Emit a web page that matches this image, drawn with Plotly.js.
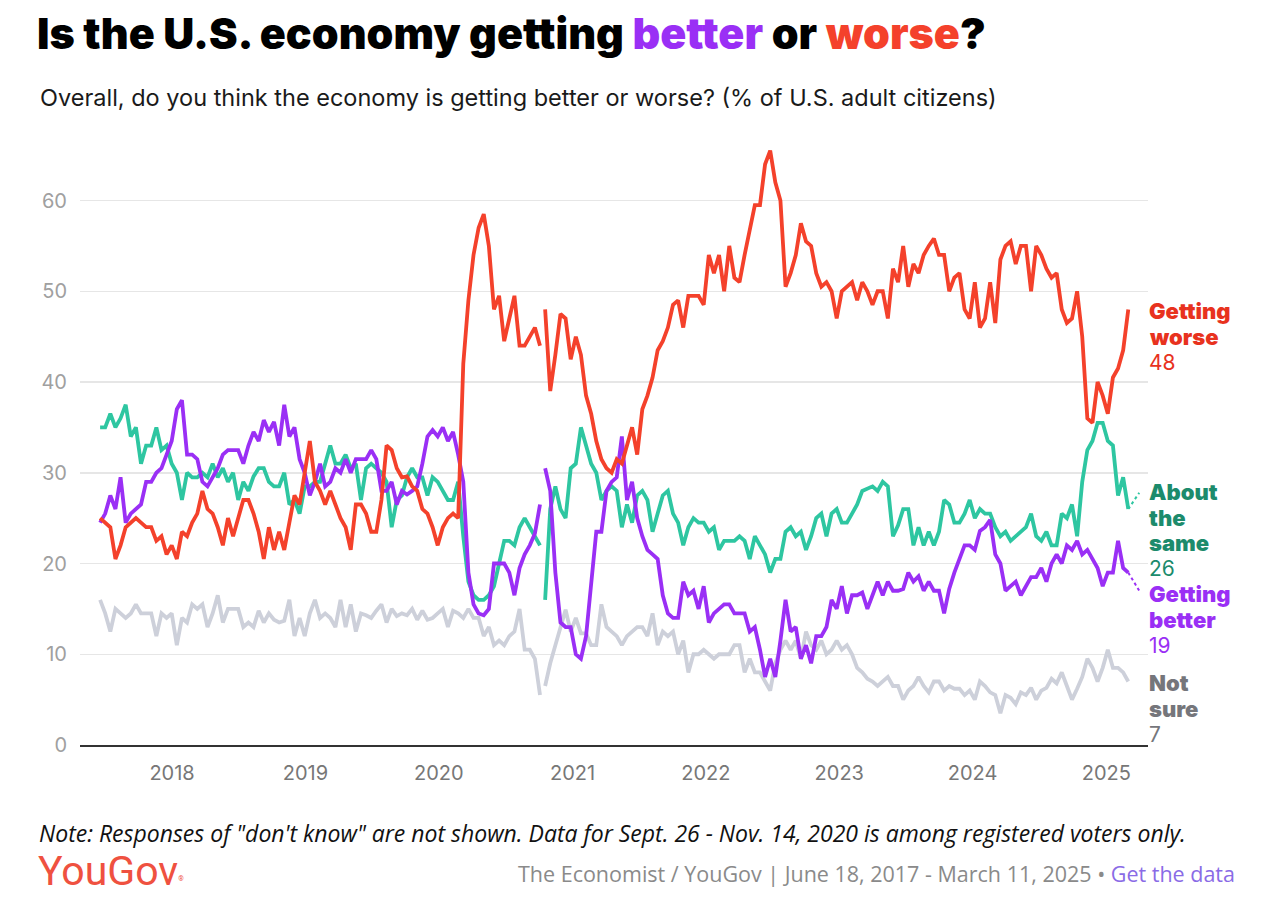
<!DOCTYPE html>
<html><head><meta charset="utf-8">
<script src="https://cdn.plot.ly/plotly-3.0.1.min.js"></script>
<style>html,body{margin:0;padding:0;background:#fff}#chart{width:1278px;height:922px}</style>
</head><body><div id="chart"></div>
<script>
// Survey schedule (one reading every two weeks from the first poll)
const startDate = '2017-06-18';
const stepDays = 14;
// Registered-voter-only stretch begins here: the lines are broken at this date
const breakDate = '2020-10-10';

const worse = [25,24.5,24,20.5,22,24,24.5,25,24.5,24, 24,22.5,23,21,22,20.5,23.5,23,24.5,25.5, 28,26,25.5,24,22,25,23,25,27,27,
 25.5,23.5,20.5,24,21.5,23.5,21.5,24.5,27.5,26.5, 30,33.5,29,28,26.5,28,26.5,25,24,21.5, 26.5,26.5,25.5,23.5,23.5,27,33,32.5,30.5,29.5,
 29.6,28.5,28,26,25.5,24,22,24,25,25.5, 25,42,49,54,57,58.5,55,48,49.5,44.5, 47,49.5,44,44,45,46,44,
 48,39,43,47.5,47,42.5,45,43,38.5,36.5, 33.5,31.5,30.5,30,31.5,31,33,35,32,37, 38.5,40.5,43.5,44.5,46,48.5,49,46,49.5,49.5, 49.5,
 48.5,54,52,54,50,55,51.5,51,54,57, 59.5,59.5,64,65.5,62,60,50.5,52,54,57.5, 55.5,55,52,50.5,51,50,47,50,
 50.5,51,49,51,50,48.5,50,50,47,52.5, 51,55,50.5,53,52,54,55,55.8,54,54, 50,51.5,52,48,47,51,46,47,
 51,46.5,53.5,55,55.5,53,55,55,50,55, 54,52.5,51.5,52,48,46.5,47,50,45,36, 35.5,40,38.5,36.5,40.5,41.5,43.5,48];

const same = [35,35,36.5,35,36,37.5,34,35,31,33, 33,35,32.5,33,31,30,27,30,29.5,29.5, 30,29.5,31,29.5,30.5,29,30,27,29,28,
 29.6,30.5,30.5,29,28.5,28.5,30,26.5,27,25.5, 28.5,28.5,29,29,31,33,31,31,32,30.5, 31,27,30.5,31,30.5,30,29,24,27,27.5,
 29.5,30.5,29.5,29.5,27.5,29.5,29,28,27,27, 29,23,18,16.5,16,16,16.5,17.5,20,22.5, 22.5,22,24,25,24,23,22,
 16,26,28.5,26,25,30.5,31,35,33,31, 30,27,28,28.5,28,24,26.5,24.5,27.5,28, 27,23.5,25.5,27.5,28,25.5,24.5,22,24,25, 24.5,
 24.5,23.5,24,21.5,22.5,22.5,22.5,23,22.5,20.5, 23,22,21,19,20.5,20.5,23.5,24,23,23.5, 21.5,23,25,25.5,23,25.5,26,24.5,
 24.5,25.5,26.5,28,28.3,28.5,28,29,28.5,23, 24.2,26,26,22,24,22,23.5,22,23.5,27, 26.5,24.5,24.5,25.5,27,25,26,25.5,
 25.5,24,23,23.5,22.5,23,23.5,24,25.5,23, 22.5,23.5,22,22,25.5,25,26.5,23,29,32.5, 33.5,35.5,35.5,33.5,33,27.5,29.5,26];

const better = [24.5,25.5,27.5,26,29.5,24.5,25.5,26,26.5,29, 29,30,30.5,32,33.5,37,38,32,32,31.5, 29,28.5,29.5,30.5,32,32.5,32.5,32.5,31,33,
 34.5,33.5,35.8,34.5,35.6,33,37.5,34,35,31.5, 30,27.5,29,31,28.5,29,30.5,30,31.5,30, 31.5,31.5,31.5,32.5,31.5,28,28,29,26.5,28,
 27.6,28,28.5,31,34,34.7,34,35,33.5,34.5, 32,29,19,15.5,14.5,14.3,15,20,20,20, 19,16.5,19.5,21,22,23.3,26.5,
 30.5,28,19,13.5,13,13,10,9.5,12,18, 23.5,23.5,28,29,29.5,34,27,29,25,23, 21.5,21,20.5,16.5,14.5,14,14,18,16.5,17, 15,
 17.5,13.5,14.5,15,15.5,15.5,14.5,14.5,14.5,12.5, 13,10.5,7.5,9.5,7.5,11.5,16,12.5,13,9.5, 11,9,12,12,13,16,15,17.5,
 14.5,16.5,16.5,16.8,15,16.5,18,16.5,18,17, 17,17.2,19,18,18.6,17,18,17,17,14.5, 17.2,19,20.5,22,22,21.5,23.6,24,
 24.8,21,20,17,17.5,18,16.5,17.5,18.5,18.5, 19.5,18,20,21,20,22,21.5,22.5,21,21.5, 20.5,19.5,17.5,19,19,22.5,19.5,19];

const notSure = [16,14.5,12.5,15,14.5,14,14.5,15.5,14.5,14.5, 14.5,12,14.5,14,14.5,11,14,13.5,15.5,15, 15.5,13,14.5,16.5,13.5,15,15,15,13,13.5,
 13,14.8,13.5,14.5,13.8,13.5,13.7,16,12,14, 12,14.5,16,14,14.5,14,13,16,13,15.5, 12.5,14.5,14.3,14,14.8,15.5,13.5,15,14.2,14.5,
 14.3,15,13.8,14.8,13.8,14,14.5,15,13,14.8, 14.5,14,15,14,14,12,13,11,11.5,11, 12,12.5,15,10.5,10.5,9.5,5.5,
 6.5,9,11,13,14.9,12.5,14,12.3,12.3,11, 11,15.5,13,12.5,12,11,12,12.5,13,13, 12,14.5,11,12.5,12,12.5,10,11.5,8,10, 10,
 10.5,10,9.5,10,10,10,11,11,8,9.5, 8,8,7,6,9,10.5,11.5,10.5,11.5,9.5, 12.5,11,10.5,11.5,10,10.5,11.5,10.5,
 11,10,8.5,8,7.3,7,6.5,7,7.5,6.5, 6.5,5,6,6.5,7.5,6.5,5.8,7,7,6, 6.5,6.2,6.2,5.5,6,5,7,6.5,
 5.8,5.5,3.5,5.5,5.2,4.5,5.8,5.5,6.3,5, 6,6.3,7.3,6.8,8,6.5,5,6.2,7.5,9.5, 8.5,7,8.5,10.5,8.5,8.5,8,7];

const yTickVals = [0,10,20,30,40,50,60];
const xTickVals = ['2018-01-01','2019-01-01','2020-01-01','2021-01-01','2022-01-01','2023-01-01','2024-01-01','2025-01-01'];
const xTickText = ['2018','2019','2020','2021','2022','2023','2024','2025'];

const seriesDefs = [
  {name:'Not sure', words:['Not','sure'], values:notSure, color:'#cdd0da', label:'#75767b', centerPx:683},
  {name:'About the same', words:['About','the','same'], values:same, color:'#2ec6a1', label:'#1c8b6c', centerPx:492},
  {name:'Getting better', words:['Getting','better'], values:better, color:'#9a2ff5', label:'#9a2ff5', centerPx:594},
  {name:'Getting worse', words:['Getting','worse'], values:worse, color:'#f4412b', label:'#e8321e', centerPx:311}
];

function buildDates(start, n, step){
  const out = [];
  const t0 = Date.parse(start + 'T00:00:00Z');
  for (let i = 0; i < n; i++){
    out.push(new Date(t0 + i*step*86400000).toISOString().slice(0,10));
  }
  return out;
}
const dates = buildDates(startDate, worse.length, stepDays);

const traces = [];
seriesDefs.forEach(s => {
  const segA = {x:[], y:[]}, segB = {x:[], y:[]};
  dates.forEach((d,i) => {
    const seg = d < breakDate ? segA : segB;
    seg.x.push(d); seg.y.push(s.values[i]);
  });
  [segA, segB].forEach(seg => traces.push({
    type:'scatter', mode:'lines', x:seg.x, y:seg.y, name:s.name,
    line:{color:s.color, width:3.8, shape:'linear'}, hoverinfo:'skip', showlegend:false
  }));
});

// plot frame in pixels
const W = 1278, H = 922, L = 80, R = 1148, T = 137, B = 745;
const pw = R - L, ph = B - T;
const px = x => (x - L) / pw;
const py = y => (B - y) / ph;
const LINE = 25.6;

const annotations = [];
seriesDefs.forEach(s => {
  s.words.forEach((w, k) => annotations.push({
    xref:'paper', yref:'paper', x:1, y:py(s.centerPx + k*LINE), xanchor:'left', yanchor:'middle',
    align:'left', showarrow:false, text:w, borderpad:0,
    font:{family:'Inter, Roboto, sans-serif', size:22, weight:900, color:s.label}
  }));
  annotations.push({
    xref:'paper', yref:'paper', x:1, y:py(s.centerPx + s.words.length*LINE), xanchor:'left', yanchor:'middle',
    align:'left', showarrow:false, text: String(s.values[s.values.length-1]), borderpad:0,
    font:{family:'Inter, Roboto, sans-serif', size:21, weight:400, color:s.label}
  });
});

annotations.push({
  xref:'paper', yref:'paper', x:px(38), y:py(98), xanchor:'left', yanchor:'middle', showarrow:false,
  text:'Overall, do you think the economy is getting better or worse? (% of U.S. adult citizens)',
  font:{family:'Inter, Roboto, sans-serif', size:23.5, color:'#1a1a1a'}
});
annotations.push({
  xref:'paper', yref:'paper', x:px(37), y:py(833), xanchor:'left', yanchor:'middle', showarrow:false,
  text:'<i>Note: Responses of "don\'t know" are not shown. Data for Sept. 26 - Nov. 14, 2020 is among registered voters only.</i>',
  font:{family:'Open Sans, sans-serif', size:23, color:'#111'}
});
annotations.push({
  xref:'paper', yref:'paper', x:px(36), y:py(871), xanchor:'left', yanchor:'middle', showarrow:false,
  text:'YouGov<span style="font-size:10px"><sup>®</sup></span>',
  font:{family:'Roboto, sans-serif', size:41, weight:400, color:'#ef5140'}
});
annotations.push({
  xref:'paper', yref:'paper', x:px(1237), y:py(873), xanchor:'right', yanchor:'middle', showarrow:false,
  text:'The Economist / YouGov | June 18, 2017 - March 11, 2025 • <span style="color:#8a6be6">Get the data</span>',
  font:{family:'Open Sans, sans-serif', size:21.5, color:'#8a8a8a'}
});

// dotted leader lines from the last reading toward the labels
const lastDate = dates[dates.length-1];
const leadEnd = new Date(Date.parse(lastDate+'T00:00:00Z') + 30*86400000).toISOString().slice(0,10);
const shapes = [
  {type:'line', xref:'x', yref:'y', x0:lastDate, y0:same[same.length-1], x1:leadEnd, y1:same[same.length-1]+1.8,
   line:{color:'#2ec6a1', width:2, dash:'dot'}},
  {type:'line', xref:'x', yref:'y', x0:lastDate, y0:better[better.length-1], x1:leadEnd, y1:better[better.length-1]-2,
   line:{color:'#9a2ff5', width:2, dash:'dot'}}
];

const layout = {
  width:W, height:H,
  margin:{l:L, r:W-R, t:T, b:H-B, pad:0},
  paper_bgcolor:'#fff', plot_bgcolor:'#fff',
  font:{family:'Inter, Roboto, sans-serif'},
  title:{
    text:'Is the U.S. economy getting <span style="color:#9a2ff5">better</span> or <span style="color:#f4412b">worse</span>?',
    xref:'container', yref:'container', x:37/W, xanchor:'left', y:1-19/H, yanchor:'top',
    font:{family:'Inter, sans-serif', size:43, weight:900, color:'#000'}
  },
  xaxis:{
    type:'date', range:['2017-04-24','2025-04-25'],
    tickvals:xTickVals, ticktext:xTickText, ticks:'', showgrid:false, zeroline:false,
    showline:true, linecolor:'#333', linewidth:2,
    tickfont:{family:'Inter, sans-serif', size:20, color:'#777'}, ticklabelstandoff:9
  },
  yaxis:{
    range:[0,67], tickvals:yTickVals, ticks:'', showgrid:true, gridcolor:'#e6e6e6', gridwidth:1.5,
    zeroline:false, showline:false,
    tickfont:{family:'Inter, sans-serif', size:20, color:'#a0a0a0'}, ticklabelstandoff:12
  },
  annotations, shapes, showlegend:false
};

Plotly.newPlot('chart', traces, layout, {staticPlot:true, displayModeBar:false});
</script></body></html>
